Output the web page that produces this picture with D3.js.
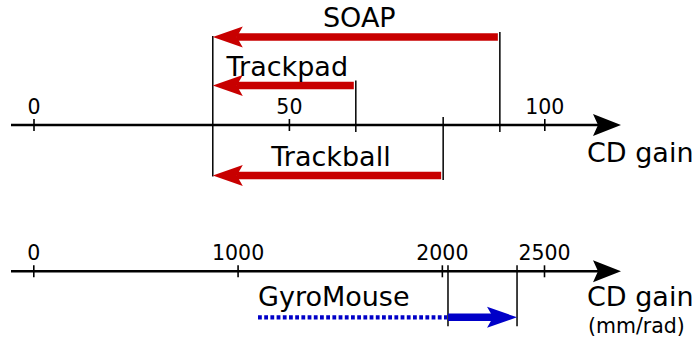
<!DOCTYPE html>
<html>
<head>
<meta charset="utf-8">
<script src="https://cdn.jsdelivr.net/npm/d3@7"></script>
<style>
  body { margin: 0; background: #fff; }
  svg { display: block; font-family: "DejaVu Sans", sans-serif; }
</style>
</head>
<body>
<svg id="chart" width="695" height="343"></svg>
<script>
// CD gain ranges (top axis: unitless, bottom axis: mm/rad)
var devices = ["SOAP", "Trackpad", "Trackball"];
var gainFrom = [35.1, 35.1, 35.1];
var gainTo = [91.3, 63.1, 80.2];
var topTicks = [0, 50, 100];

var gyroName = "GyroMouse";
var gyroDotted = [1100, 2030];   // dotted part
var gyroArrow = [2030, 2368];    // solid arrow part
var bottomTicks = [0, 1000, 2000, 2500];

var axisLabel = "CD gain";
var unitLabel = "(mm/rad)";

var red = "#c80000", blue = "#0000c8";

var svg = d3.select("#chart");

// layout
var topAxisY = 125, botAxisY = 271.3;
var rowOffset = [-88, -39.5, 50.5];   // arrow rows relative to top axis
var gyroOffset = 46;
var bigFont = 27, tickFont = 20.5;

var xTop = d3.scaleLinear().domain([0, 100]).range([33.5, 544.3]);
var xBot = d3.scaleLinear().domain([0, 2500]).range([33.3, 544]);

// arrow head, tip at origin pointing right
function headPath(len, half, notch) {
  return "M0,0 L" + (-len) + "," + (-half) + " L" + (-len + notch) + ",0 L" + (-len) + "," + half + " Z";
}

function drawAxis(x, y, ticks) {
  var g = svg.append("g").attr("transform", "translate(0," + y + ")");
  g.append("line")
    .attr("x1", 11).attr("x2", 600)
    .attr("stroke", "#000").attr("stroke-width", 2.5);
  g.append("path")
    .attr("d", headPath(28, 11, 5))
    .attr("transform", "translate(621,0)")
    .attr("fill", "#000");

  var ax = g.append("g")
    .call(d3.axisTop(x).tickValues(ticks).tickSize(6).tickPadding(5).tickFormat(d3.format("d")));
  ax.select(".domain").remove();
  ax.selectAll(".tick line").attr("y1", 6).attr("stroke-width", 1.6);
  ax.selectAll(".tick text")
    .attr("font-family", "DejaVu Sans").attr("font-size", tickFont).attr("fill", "#000");
  return g;
}

drawAxis(xTop, topAxisY, topTicks);
drawAxis(xBot, botAxisY, bottomTicks);

// axis titles
svg.append("text").attr("x", 587).attr("y", topAxisY + 37)
  .attr("font-size", bigFont).text(axisLabel);
svg.append("text").attr("x", 587).attr("y", botAxisY + 35)
  .attr("font-size", bigFont).text(axisLabel);
svg.append("text").attr("x", 588).attr("y", botAxisY + 62)
  .attr("font-size", tickFont).text(unitLabel);

// top rows: arrows pointing left
var rows = devices.map(function (d, i) {
  return { name: d, from: gainFrom[i], to: gainTo[i], y: topAxisY + rowOffset[i] };
});

var yMin = d3.min(rows, function (d) { return d.y; });
var yMax = d3.max(rows, function (d) { return d.y; });

// common left bound
svg.append("line")
  .attr("x1", xTop(gainFrom[0])).attr("x2", xTop(gainFrom[0]))
  .attr("y1", yMin - 1).attr("y2", yMax + 1)
  .attr("stroke", "#000").attr("stroke-width", 1.5);

var row = svg.selectAll(".row").data(rows).enter().append("g").attr("class", "row");

row.append("line")
  .attr("x1", function (d) { return xTop(d.to); })
  .attr("x2", function (d) { return xTop(d.to); })
  .attr("y1", function (d) { return d.y < topAxisY ? d.y - 5 : topAxisY - 8; })
  .attr("y2", function (d) { return d.y < topAxisY ? topAxisY + 7 : d.y + 4.5; })
  .attr("stroke", "#000").attr("stroke-width", 1.5);

row.append("line")
  .attr("x1", function (d) { return xTop(d.from) + 24; })
  .attr("x2", function (d) { return xTop(d.to) - 2; })
  .attr("y1", function (d) { return d.y; })
  .attr("y2", function (d) { return d.y; })
  .attr("stroke", red).attr("stroke-width", 7.5);

row.append("path")
  .attr("d", headPath(30, 10.5, 6))
  .attr("transform", function (d) { return "translate(" + xTop(d.from) + "," + d.y + ") scale(-1,1)"; })
  .attr("fill", red);

row.append("text")
  .attr("x", function (d) { return (xTop(d.from) + xTop(d.to)) / 2 + 3; })
  .attr("y", function (d) { return d.y - 10; })
  .attr("text-anchor", "middle")
  .attr("font-size", bigFont)
  .text(function (d) { return d.name; });

// GyroMouse
var gy = botAxisY + gyroOffset;
var g2 = svg.append("g");

g2.append("line")
  .attr("x1", xBot(gyroDotted[0])).attr("x2", xBot(gyroDotted[1]) - 1)
  .attr("y1", gy).attr("y2", gy)
  .attr("stroke", blue).attr("stroke-width", 4.2)
  .attr("stroke-dasharray", "3.8,2.4");

[gyroArrow[0], gyroArrow[1]].forEach(function (v) {
  g2.append("line")
    .attr("x1", xBot(v)).attr("x2", xBot(v))
    .attr("y1", botAxisY - 6).attr("y2", gy + 9)
    .attr("stroke", "#000").attr("stroke-width", 1.5);
});

g2.append("line")
  .attr("x1", xBot(gyroArrow[0])).attr("x2", xBot(gyroArrow[1]) - 24)
  .attr("y1", gy).attr("y2", gy)
  .attr("stroke", blue).attr("stroke-width", 7.5);

g2.append("path")
  .attr("d", headPath(30, 10.5, 6))
  .attr("transform", "translate(" + xBot(gyroArrow[1]) + "," + gy + ")")
  .attr("fill", blue);

g2.append("text")
  .attr("x", xBot(gyroDotted[0])).attr("y", gy - 11)
  .attr("font-size", bigFont)
  .text(gyroName);
</script>
</body>
</html>
